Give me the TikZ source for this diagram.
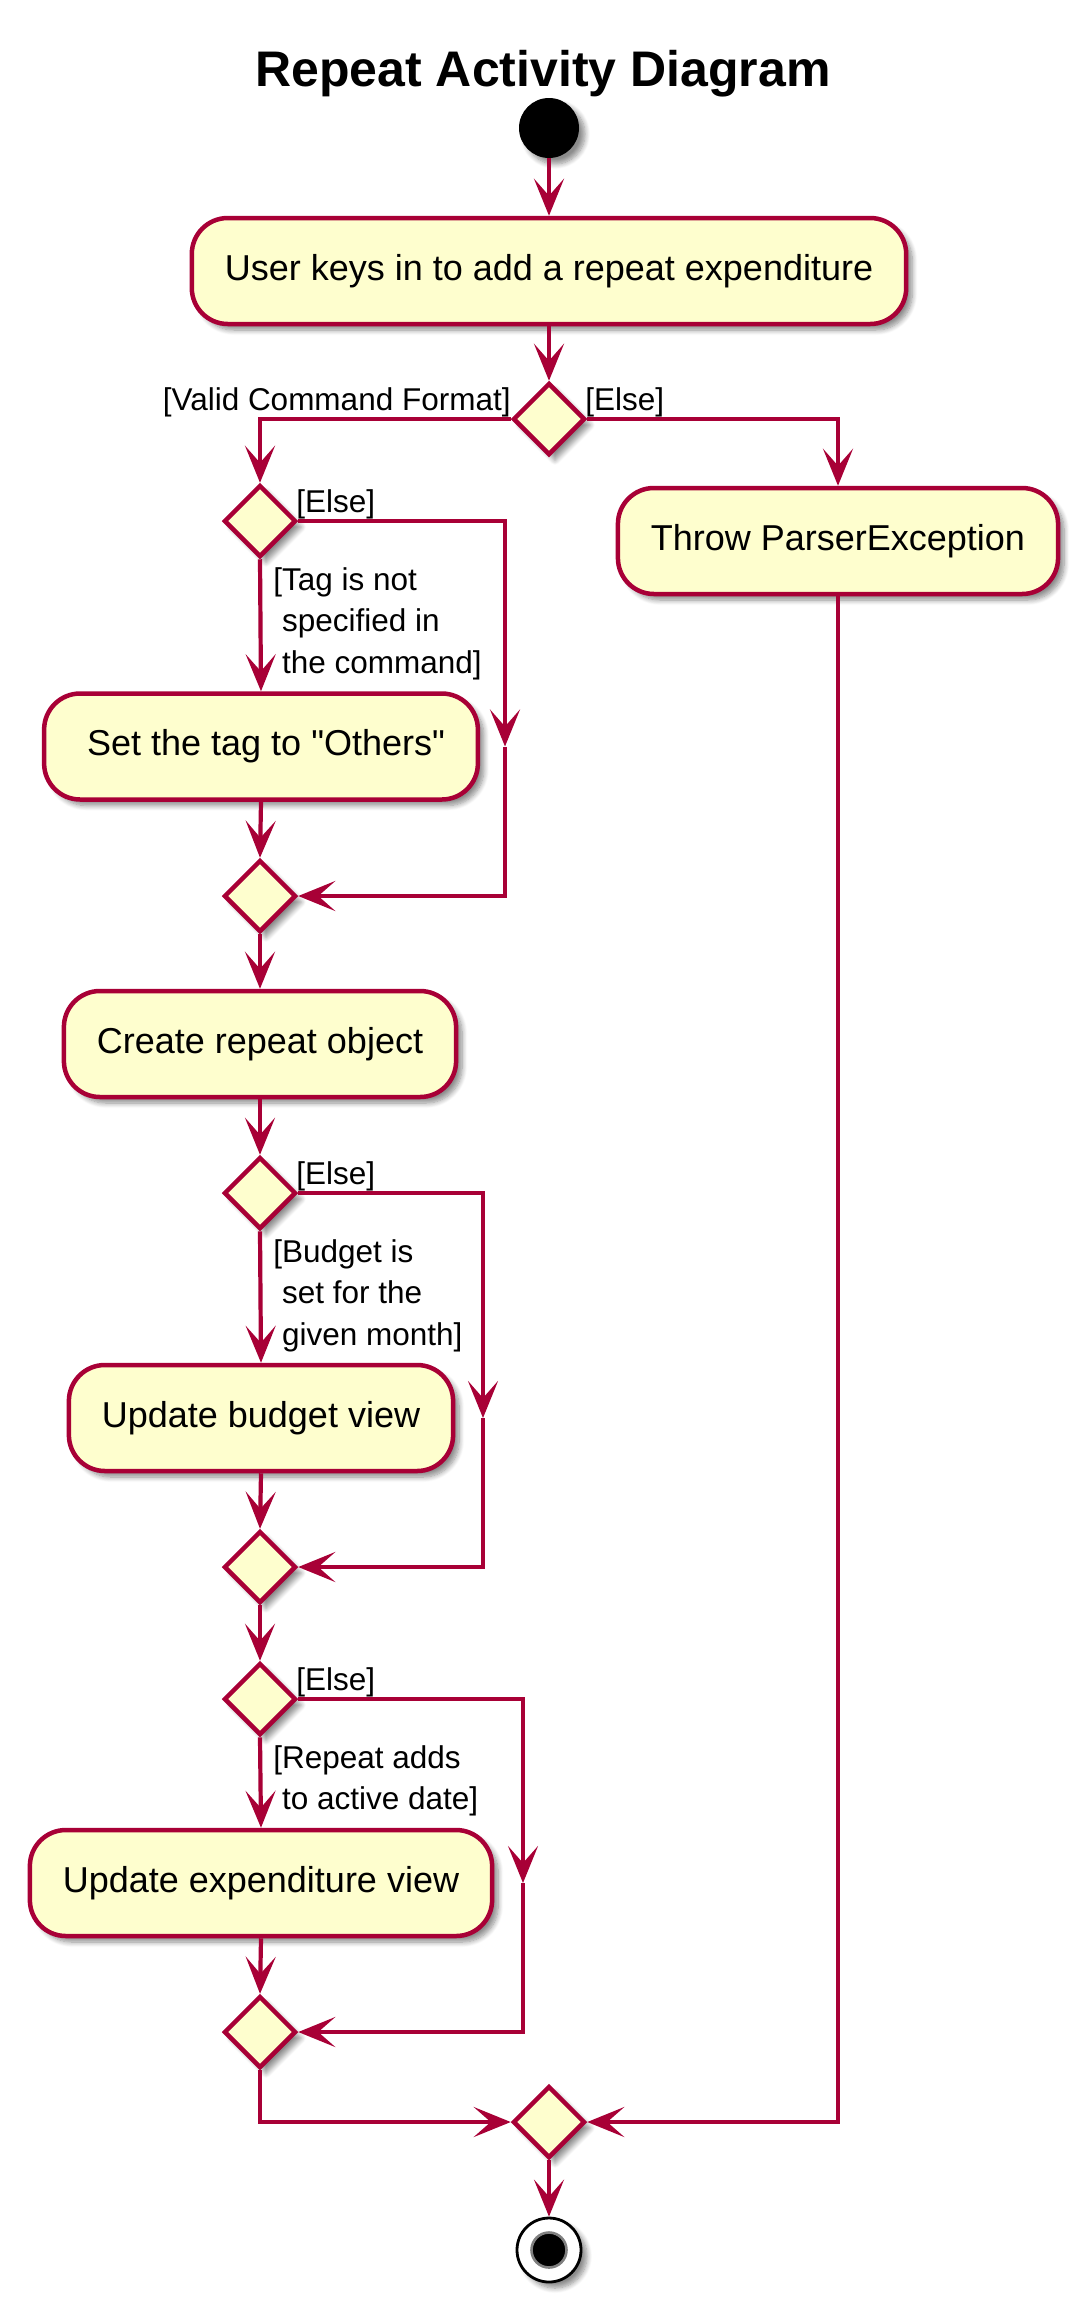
\documentclass[tikz,border=0pt]{standalone}
\usepackage{fontspec}
\setmainfont{Liberation Sans}[Ligatures=TeXOff]
\usetikzlibrary{shapes.geometric,arrows.meta,shadows.blur}
\definecolor{umlred}{HTML}{A80036}
\definecolor{umlfill}{HTML}{FEFECE}
\tikzset{
  shad/.style={blur shadow={shadow xshift=3pt,shadow yshift=-3pt,shadow blur radius=2.5pt,shadow blur steps=8,shadow opacity=45}},
  actbox/.style={draw=umlred,fill=umlfill,line width=2.25pt,rounded corners=18pt,minimum height=53pt,inner xsep=16.5pt,inner ysep=0pt,font=\fontsize{18pt}{21pt}\selectfont,shad},
  decis/.style={diamond,draw=umlred,fill=umlfill,line width=2.25pt,minimum width=36pt,minimum height=36pt,inner sep=0pt,shad},
  lbl/.style={inner sep=0pt,font=\fontsize{15.75pt}{20.75pt}\selectfont},
  arr/.style={draw=umlred,line width=2.1pt,-{Stealth[length=18.5pt,width=15pt,inset=8.5pt]}},
  startnode/.style={circle,fill=black,minimum size=30pt,inner sep=0pt,shad},
  endouter/.style={circle,draw=black,fill=white,line width=1.4pt,minimum size=32pt,inner sep=0pt,shad},
  endinner/.style={circle,draw=black!50,fill=black,line width=1.3pt,minimum size=17.5pt,inner sep=0pt}
}
\begin{document}
\begin{tikzpicture}[x=0.5pt,y=-0.5pt]
\useasboundingbox (0,0) rectangle (1089,2313);
\node[inner sep=0pt,anchor=base,font=\fontsize{25pt}{30pt}\selectfont\bfseries] (title) at (543,86) {Repeat Activity Diagram};
\node[startnode] (start) at (549,128) {};
\node[actbox] (a1) at (549,271) {User keys in to add a repeat expenditure};
\node[decis] (d1) at (549,419) {};
\node[actbox] (throw) at (838,541) {Throw ParserException};
\node[decis] (d2) at (260,521) {};
\node[actbox] (a2) at (261,746.5) {\ Set the tag to "Others"};
\node[decis] (d3) at (260,896) {};
\node[actbox] (a3) at (260,1044) {Create repeat object};
\node[decis] (d4) at (260,1193) {};
\node[actbox] (a4) at (261,1418) {Update budget view};
\node[decis] (d5) at (260,1567) {};
\node[decis] (d6) at (260,1699) {};
\node[actbox] (a5) at (261,1883) {Update expenditure view};
\node[decis] (d7) at (260,2032) {};
\node[decis] (dm) at (549,2122) {};
\node[endouter] (end) at (549,2250) {};
\node[endinner] (endin) at (end) {};
\coordinate (k2) at (505,746.5);
\coordinate (k4) at (483,1418);
\coordinate (k6) at (523,1883);
% labels
\node[lbl,anchor=base east] (lv) at (511,410) {[Valid Command Format]};
\node[lbl,anchor=base west] (le1) at (585,410) {[Else]};
\node[lbl,anchor=base west] (le2) at (296,512) {[Else]};
\node[lbl,anchor=base west] (le4) at (296,1184) {[Else]};
\node[lbl,anchor=base west] (le6) at (296,1690) {[Else]};
\node[lbl,anchor=base west] (lt) at (273,590) {\begin{tabular}[t]{@{}l@{}}[Tag is not\\\ specified in\\\ the command]\end{tabular}};
\node[lbl,anchor=base west] (lb) at (273,1262) {\begin{tabular}[t]{@{}l@{}}[Budget is\\\ set for the\\\ given month]\end{tabular}};
\node[lbl,anchor=base west] (lr) at (273,1768) {\begin{tabular}[t]{@{}l@{}}[Repeat adds\\\ to active date]\end{tabular}};
% connectors
\draw[arr] (start) -- (a1);
\draw[arr] (a1) -- (d1);
\draw[arr] (d1.west) -| (d2.north);
\draw[arr] (d1.east) -| (throw.north);
\draw[arr] (d2.south) -- (a2.north);
\draw[arr] (d2.east) -| (k2);
\draw[arr] (k2) |- (d3.east);
\draw[arr] (a2.south) -- (d3.north);
\draw[arr] (d3.south) -- (a3.north);
\draw[arr] (a3.south) -- (d4.north);
\draw[arr] (d4.south) -- (a4.north);
\draw[arr] (d4.east) -| (k4);
\draw[arr] (k4) |- (d5.east);
\draw[arr] (a4.south) -- (d5.north);
\draw[arr] (d5.south) -- (d6.north);
\draw[arr] (d6.south) -- (a5.north);
\draw[arr] (d6.east) -| (k6);
\draw[arr] (k6) |- (d7.east);
\draw[arr] (a5.south) -- (d7.north);
\draw[arr] (d7.south) |- (dm.west);
\draw[arr] (throw.south) |- (dm.east);
\draw[arr] (dm.south) -- (end.north);
\end{tikzpicture}
\end{document}
